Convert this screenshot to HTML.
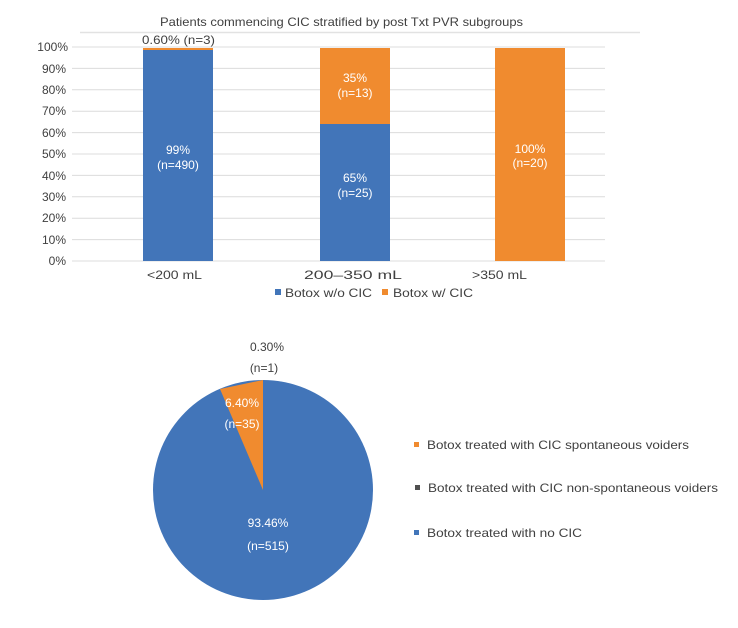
<!DOCTYPE html>
<html><head><style>body{margin:0;background:#fff}</style></head><body>
<svg width="738" height="623" xmlns="http://www.w3.org/2000/svg" font-family="Liberation Sans, sans-serif">
<rect width="738" height="623" fill="#fff"/>
<text x="160" y="26" font-size="12" fill="#404040" textLength="363" lengthAdjust="spacingAndGlyphs">Patients commencing CIC stratified by post Txt PVR subgroups</text>
<line x1="80" y1="32.5" x2="640" y2="32.5" stroke="#e2e2e2" stroke-width="1.5"/>
<g stroke="#dcdcdc" stroke-width="1">
<line x1="72" y1="47" x2="605" y2="47"/><line x1="72" y1="68.4" x2="605" y2="68.4"/><line x1="72" y1="89.8" x2="605" y2="89.8"/><line x1="72" y1="111.2" x2="605" y2="111.2"/><line x1="72" y1="132.6" x2="605" y2="132.6"/><line x1="72" y1="154" x2="605" y2="154"/><line x1="72" y1="175.4" x2="605" y2="175.4"/><line x1="72" y1="196.8" x2="605" y2="196.8"/><line x1="72" y1="218.2" x2="605" y2="218.2"/><line x1="72" y1="239.6" x2="605" y2="239.6"/><line x1="72" y1="261" x2="605" y2="261"/>
</g>
<g font-size="12" fill="#404040" text-anchor="end">
<text x="68" y="51">100%</text><text x="66" y="73">90%</text><text x="66" y="94">80%</text><text x="66" y="115">70%</text><text x="66" y="137">60%</text><text x="66" y="158">50%</text><text x="66" y="180">40%</text><text x="66" y="201">30%</text><text x="66" y="222">20%</text><text x="66" y="244">10%</text><text x="66" y="265">0%</text>
</g>
<rect x="143" y="48" width="70" height="2" fill="#f08b2f"/>
<rect x="143" y="50" width="70" height="211" fill="#4275b9"/>
<rect x="320" y="48" width="70" height="76" fill="#f08b2f"/>
<rect x="320" y="124" width="70" height="137" fill="#4275b9"/>
<rect x="495" y="48" width="70" height="213" fill="#f08b2f"/>
<g font-size="12" fill="#fff" text-anchor="middle">
<text x="178" y="154">99%</text><text x="178" y="169">(n=490)</text>
<text x="355" y="82">35%</text><text x="355" y="97">(n=13)</text>
<text x="355" y="182">65%</text><text x="355" y="197">(n=25)</text>
<text x="530" y="153">100%</text><text x="530" y="167">(n=20)</text>
</g>
<g font-size="12" fill="#404040">
<text x="142" y="44" textLength="73" lengthAdjust="spacingAndGlyphs">0.60% (n=3)</text>
<text x="147" y="279" textLength="55" lengthAdjust="spacingAndGlyphs">&lt;200 mL</text>
<text x="304" y="279" textLength="98" lengthAdjust="spacingAndGlyphs">200–350 mL</text>
<text x="472" y="279" textLength="55" lengthAdjust="spacingAndGlyphs">&gt;350 mL</text>
</g>
<rect x="275" y="289" width="6" height="6" fill="#4275b9"/>
<text x="285" y="297" font-size="12" fill="#404040" textLength="87" lengthAdjust="spacingAndGlyphs">Botox w/o CIC</text>
<rect x="382" y="289" width="6" height="6" fill="#f08b2f"/>
<text x="393" y="297" font-size="12" fill="#404040" textLength="80" lengthAdjust="spacingAndGlyphs">Botox w/ CIC</text>
<circle cx="263" cy="490" r="110" fill="#4275b9"/>
<path d="M263,490 L263,380 L220,389 Z" fill="#f08b2f"/>
<g font-size="12" text-anchor="middle">
<text x="267" y="351" fill="#404040">0.30%</text>
<text x="264" y="372" fill="#404040">(n=1)</text>
<text x="242" y="407" fill="#fff">6.40%</text>
<text x="242" y="428" fill="#fff">(n=35)</text>
<text x="268" y="527" fill="#fff">93.46%</text>
<text x="268" y="550" fill="#fff">(n=515)</text>
</g>
<g font-size="12" fill="#404040">
<rect x="414" y="442" width="5" height="5" fill="#f08b2f"/><text x="427" y="449" textLength="262" lengthAdjust="spacingAndGlyphs">Botox treated with CIC spontaneous voiders</text>
<rect x="415" y="485" width="5" height="5" fill="#505050"/><text x="428" y="492" textLength="290" lengthAdjust="spacingAndGlyphs">Botox treated with CIC non-spontaneous voiders</text>
<rect x="414" y="530" width="5" height="5" fill="#4275b9"/><text x="427" y="537" textLength="155" lengthAdjust="spacingAndGlyphs">Botox treated with no CIC</text>
</g>
</svg>
</body></html>
